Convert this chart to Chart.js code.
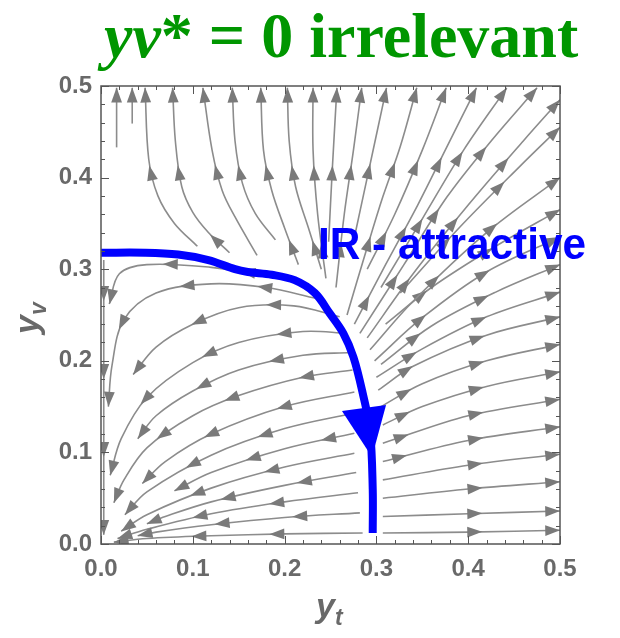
<!DOCTYPE html>
<html>
<head>
<meta charset="utf-8">
<script src="https://cdn.jsdelivr.net/npm/chart.js@4.4.0/dist/chart.umd.min.js"></script>
<style>
  html, body { margin: 0; padding: 0; background: #fff; }
  canvas { display: block; }
</style>
</head>
<body>
<canvas id="flow" width="620" height="638"></canvas>
<script>
// tick values on both axes
const xTicks = [0, 0.1, 0.2, 0.3, 0.4, 0.5];
const yTicks = [0, 0.1, 0.2, 0.3, 0.4, 0.5];

// separatrix from the fixed point on the y_v axis down to y_t = 0.3
const blueYt = [0, 0.048, 0.084, 0.117, 0.146, 0.160, 0.186, 0.211, 0.233, 0.249, 0.264, 0.275, 0.285, 0.293, 0.296, 0.296];
const blueYv = [0.318, 0.318, 0.316, 0.310, 0.300, 0.297, 0.294, 0.288, 0.274, 0.252, 0.230, 0.204, 0.165, 0.124, 0.060, 0.012];
// its arrowhead: left corner, right corner, tip
const blueHeadYt = [0.2625, 0.3105, 0.2952];
const blueHeadYv = [0.1452, 0.1517, 0.0950];

// streamlines, each listed in the direction of the flow: [y_t, y_v]
const upperLeftLines = [
  [[0.017, 0.433], [0.017, 0.498]],
  [[0.034, 0.459], [0.034, 0.498]],
  [[0.105, 0.325], [0.080, 0.350], [0.062, 0.380], [0.052, 0.420], [0.048, 0.498]],
  [[0.140, 0.318], [0.117, 0.340], [0.100, 0.362], [0.088, 0.390], [0.081, 0.440], [0.078, 0.498]],
  [[0.170, 0.315], [0.146, 0.357], [0.132, 0.386], [0.121, 0.430], [0.111, 0.498]],
  [[0.190, 0.332], [0.168, 0.361], [0.154, 0.394], [0.146, 0.440], [0.143, 0.498]],
  [[0.215, 0.305], [0.200, 0.345], [0.186, 0.386], [0.177, 0.430], [0.174, 0.498]],
  [[0.240, 0.300], [0.226, 0.345], [0.212, 0.390], [0.205, 0.440], [0.203, 0.498]],
  [[0.245, 0.290], [0.236, 0.360], [0.231, 0.430], [0.231, 0.498]]
];
const upperRightLines = [
  [[0.248, 0.330], [0.252, 0.410], [0.257, 0.498]],
  [[0.256, 0.280], [0.265, 0.360], [0.275, 0.430], [0.284, 0.498]],
  [[0.275, 0.330], [0.290, 0.400], [0.311, 0.498]],
  [[0.268, 0.250], [0.290, 0.324], [0.307, 0.379], [0.326, 0.434], [0.344, 0.498]],
  [[0.290, 0.300], [0.320, 0.360], [0.350, 0.430], [0.376, 0.498]],
  [[0.276, 0.240], [0.310, 0.305], [0.345, 0.370], [0.375, 0.430], [0.409, 0.498]],
  [[0.305, 0.280], [0.350, 0.355], [0.395, 0.430], [0.442, 0.498]],
  [[0.282, 0.230], [0.330, 0.305], [0.377, 0.379], [0.425, 0.440], [0.475, 0.498]],
  [[0.290, 0.225], [0.340, 0.295], [0.400, 0.370], [0.460, 0.440], [0.500, 0.485]],
  [[0.326, 0.274], [0.391, 0.346], [0.456, 0.412], [0.500, 0.455]],
  [[0.293, 0.212], [0.340, 0.265], [0.420, 0.340], [0.500, 0.400]],
  [[0.310, 0.240], [0.360, 0.280], [0.430, 0.325], [0.500, 0.365]],
  [[0.298, 0.200], [0.350, 0.247], [0.420, 0.297], [0.500, 0.335]],
  [[0.305, 0.196], [0.360, 0.238], [0.430, 0.275], [0.500, 0.305]],
  [[0.300, 0.182], [0.350, 0.213], [0.420, 0.248], [0.500, 0.275]]
];
const lowerRightLines = [
  [[0.302, 0.168], [0.340, 0.194], [0.420, 0.228], [0.500, 0.248]],
  [[0.305, 0.150], [0.350, 0.175], [0.420, 0.200], [0.500, 0.218]],
  [[0.307, 0.130], [0.350, 0.150], [0.420, 0.172], [0.500, 0.188]],
  [[0.307, 0.110], [0.400, 0.140], [0.500, 0.158]],
  [[0.307, 0.090], [0.400, 0.113], [0.500, 0.128]],
  [[0.307, 0.070], [0.400, 0.086], [0.500, 0.098]],
  [[0.307, 0.050], [0.400, 0.060], [0.500, 0.068]],
  [[0.307, 0.030], [0.400, 0.033], [0.500, 0.036]],
  [[0.307, 0.012], [0.400, 0.013], [0.500, 0.015]]
];
const lowerLeftLines = [
  [[0.285, 0.012], [0.200, 0.011], [0.120, 0.009], [0.050, 0.006], [0.014, 0.002]],
  [[0.282, 0.034], [0.200, 0.029], [0.120, 0.021], [0.060, 0.013], [0.040, 0.009]],
  [[0.280, 0.056], [0.200, 0.046], [0.120, 0.033], [0.050, 0.016], [0.018, 0.006]],
  [[0.278, 0.078], [0.200, 0.064], [0.120, 0.046], [0.070, 0.030], [0.050, 0.022]],
  [[0.276, 0.099], [0.200, 0.084], [0.120, 0.061], [0.050, 0.032], [0.022, 0.014]],
  [[0.276, 0.121], [0.200, 0.104], [0.120, 0.078], [0.080, 0.058]],
  [[0.276, 0.143], [0.200, 0.126], [0.120, 0.097], [0.050, 0.057], [0.026, 0.032]],
  [[0.276, 0.166], [0.200, 0.150], [0.120, 0.120], [0.070, 0.090], [0.045, 0.066]],
  [[0.274, 0.190], [0.220, 0.182], [0.150, 0.162], [0.100, 0.140], [0.050, 0.105], [0.025, 0.070], [0.014, 0.045]],
  [[0.272, 0.209], [0.220, 0.206], [0.150, 0.190], [0.100, 0.167], [0.060, 0.140], [0.040, 0.115]],
  [[0.268, 0.230], [0.220, 0.232], [0.150, 0.220], [0.100, 0.198], [0.050, 0.160], [0.022, 0.115], [0.010, 0.075]],
  [[0.260, 0.248], [0.210, 0.260], [0.150, 0.258], [0.100, 0.240], [0.060, 0.215], [0.035, 0.185]],
  [[0.235, 0.268], [0.180, 0.280], [0.120, 0.284], [0.060, 0.274], [0.025, 0.245], [0.012, 0.195], [0.008, 0.150]],
  [[0.190, 0.292], [0.120, 0.302], [0.050, 0.305], [0.020, 0.295], [0.009, 0.262]],
  [[0.003, 0.310], [0.003, 0.200], [0.003, 0.100], [0.003, 0.010]]
];

const LINE_GRAY = 'rgb(140,140,140)';
const HEAD_GRAY = 'rgb(122,122,122)';
const BLUE = '#0000ff';
const GREEN = 'rgb(0,150,0)';
const LABEL_GRAY = 'rgb(105,105,105)';

const datasets = [{
  label: 'separatrix',
  data: blueYt.map((x, i) => ({ x, y: blueYv[i] })),
  showLine: true,
  borderColor: BLUE,
  borderWidth: 8,
  tension: 0.35,
  pointRadius: 0,
  borderCapStyle: 'butt'
}];
[upperLeftLines, upperRightLines, lowerRightLines, lowerLeftLines].forEach(group => {
  group.forEach(line => {
    datasets.push({
      label: 'stream',
      data: line.map(p => ({ x: p[0], y: p[1] })),
      showLine: true,
      borderColor: LINE_GRAY,
      borderWidth: 1.6,
      tension: 0.35,
      pointRadius: 0,
      stream: true
    });
  });
});

// walk the bezier segments Chart.js built for a line
function sampleCurve(points) {
  const out = [];
  for (let i = 0; i < points.length - 1; i++) {
    const a = points[i], b = points[i + 1];
    const c1x = a.cp2x ?? a.x, c1y = a.cp2y ?? a.y;
    const c2x = b.cp1x ?? b.x, c2y = b.cp1y ?? b.y;
    for (let k = 0; k < 16; k++) {
      const t = k / 16, u = 1 - t;
      out.push([
        u * u * u * a.x + 3 * u * u * t * c1x + 3 * u * t * t * c2x + t * t * t * b.x,
        u * u * u * a.y + 3 * u * u * t * c1y + 3 * u * t * t * c2y + t * t * t * b.y
      ]);
    }
  }
  const last = points[points.length - 1];
  out.push([last.x, last.y]);
  return out;
}

function drawHead(ctx, x, y, dx, dy, len, half) {
  const nx = -dy, ny = dx;
  const tx = x + dx * len * 0.55, ty = y + dy * len * 0.55;
  const bx = x - dx * len * 0.45, by = y - dy * len * 0.45;
  ctx.beginPath();
  ctx.moveTo(tx, ty);
  ctx.lineTo(bx + nx * half, by + ny * half);
  ctx.lineTo(bx - nx * half, by - ny * half);
  ctx.closePath();
  ctx.fill();
}

const flowPlugin = {
  id: 'flow',
  beforeDraw(chart) {
    const ctx = chart.ctx;
    ctx.save();
    ctx.fillStyle = '#fff';
    ctx.fillRect(0, 0, chart.width, chart.height);
    ctx.restore();
  },
  afterDatasetDraw(chart, args) {
    const ds = chart.data.datasets[args.index];
    const ctx = chart.ctx;
    const area = chart.chartArea;
    const xs = chart.scales.x, ys = chart.scales.y;
    ctx.save();
    ctx.beginPath();
    ctx.rect(area.left, area.top, area.right - area.left, area.bottom - area.top);
    ctx.clip();
    if (ds.stream) {
      // arrowheads spaced along the streamline, counted back from its end
      const pts = sampleCurve(args.meta.data);
      const cum = [0];
      for (let i = 1; i < pts.length; i++) {
        cum.push(cum[i - 1] + Math.hypot(pts[i][0] - pts[i - 1][0], pts[i][1] - pts[i - 1][1]));
      }
      const total = cum[cum.length - 1];
      ctx.fillStyle = HEAD_GRAY;
      for (let d = total - 8; d > 16; d -= 78) {
        let j = 1;
        while (j < cum.length - 1 && cum[j] < d) j++;
        const i0 = Math.max(0, j - 2), i1 = Math.min(pts.length - 1, j + 1);
        let dx = pts[i1][0] - pts[i0][0], dy = pts[i1][1] - pts[i0][1];
        const n = Math.hypot(dx, dy) || 1;
        dx /= n; dy /= n;
        const f = (d - cum[j - 1]) / ((cum[j] - cum[j - 1]) || 1);
        const px = pts[j - 1][0] + (pts[j][0] - pts[j - 1][0]) * f;
        const py = pts[j - 1][1] + (pts[j][1] - pts[j - 1][1]) * f;
        drawHead(ctx, px, py, dx, dy, 15, 5.4);
      }
    } else {
      // blue arrowhead on the separatrix
      ctx.fillStyle = BLUE;
      ctx.beginPath();
      blueHeadYt.forEach((x, i) => {
        const px = xs.getPixelForValue(x), py = ys.getPixelForValue(blueHeadYv[i]);
        if (i === 0) ctx.moveTo(px, py); else ctx.lineTo(px, py);
      });
      ctx.closePath();
      ctx.fill();
    }
    ctx.restore();
  },
  afterDraw(chart) {
    const ctx = chart.ctx;
    const a = chart.chartArea;
    const xs = chart.scales.x, ys = chart.scales.y;
    ctx.save();
    // frame with inward ticks on all four sides
    ctx.strokeStyle = 'rgb(85,85,85)';
    ctx.lineWidth = 1.5;
    ctx.strokeRect(a.left, a.top, a.right - a.left, a.bottom - a.top);
    ctx.lineWidth = 1;
    ctx.beginPath();
    for (let k = 0; k <= 25; k++) {
      const v = k * 0.02;
      const len = k % 5 === 0 ? 8 : 4;
      const px = Math.round(xs.getPixelForValue(v)) + 0.5;
      const py = Math.round(ys.getPixelForValue(v)) + 0.5;
      ctx.moveTo(px, a.bottom); ctx.lineTo(px, a.bottom - len);
      ctx.moveTo(px, a.top); ctx.lineTo(px, a.top + len);
      ctx.moveTo(a.left, py); ctx.lineTo(a.left + len, py);
      ctx.moveTo(a.right, py); ctx.lineTo(a.right - len, py);
    }
    ctx.stroke();

    // axis titles
    ctx.fillStyle = LABEL_GRAY;
    ctx.textBaseline = 'alphabetic';
    ctx.textAlign = 'left';
    ctx.font = 'italic bold 34px "Liberation Sans"';
    ctx.fillText('y', 316, 617);
    const yw = ctx.measureText('y').width;
    ctx.font = 'italic bold 23px "Liberation Sans"';
    ctx.fillText('t', 316 + yw, 625);

    ctx.save();
    ctx.translate(38, 334);
    ctx.rotate(-Math.PI / 2);
    ctx.font = 'italic bold 34px "Liberation Sans"';
    ctx.fillText('y', 0, 0);
    const yw2 = ctx.measureText('y').width;
    ctx.font = 'italic bold 23px "Liberation Sans"';
    ctx.fillText('v', yw2, 8);
    ctx.restore();

    // title
    ctx.fillStyle = GREEN;
    let x = 104;
    const base = 57;
    const parts = [
      ['y', 'italic bold 64px "Liberation Serif"'],
      ['v', 'italic bold 64px "Liberation Serif"'],
      ['*', 'bold 64px "Liberation Serif"'],
      [' = 0 irrelevant', 'bold 64px "Liberation Serif"']
    ];
    parts.forEach(([t, f]) => {
      ctx.font = f;
      ctx.fillText(t, x, base);
      x += ctx.measureText(t).width;
    });

    // label on the separatrix
    ctx.fillStyle = BLUE;
    ctx.font = 'bold 45px "Liberation Sans"';
    ctx.save();
    ctx.translate(318, 259);
    ctx.scale(0.94, 1);
    ctx.fillText('IR - attractive', 0, 0);
    ctx.restore();
    ctx.restore();
  }
};

const tickFont = { family: '"Liberation Sans"', size: 24, weight: 'bold' };

new Chart(document.getElementById('flow').getContext('2d'), {
  type: 'scatter',
  data: { datasets },
  options: {
    responsive: false,
    animation: false,
    devicePixelRatio: 1,
    layout: { padding: { top: 86, right: 60, left: 0, bottom: 0 } },
    plugins: { legend: { display: false }, tooltip: { enabled: false } },
    scales: {
      x: {
        type: 'linear', min: 0, max: 0.5,
        grid: { display: false, drawTicks: false },
        border: { display: false },
        afterBuildTicks: s => { s.ticks = xTicks.map(v => ({ value: v })); },
        afterFit: s => { s.height = 94; },
        ticks: { padding: 11, font: tickFont, color: LABEL_GRAY, maxRotation: 0, callback: v => v.toFixed(1) }
      },
      y: {
        type: 'linear', min: 0, max: 0.5,
        grid: { display: false, drawTicks: false },
        border: { display: false },
        afterBuildTicks: s => { s.ticks = yTicks.map(v => ({ value: v })); },
        afterFit: s => { s.width = 101; },
        ticks: { padding: 9, font: tickFont, color: LABEL_GRAY, callback: v => v.toFixed(1) }
      }
    }
  },
  plugins: [flowPlugin]
});
</script>
</body>
</html>
